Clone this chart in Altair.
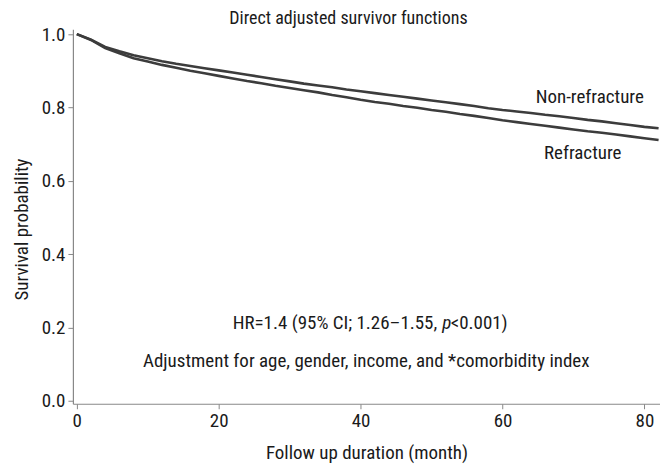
import altair as alt
import pandas as pd

months = list(range(0, 84, 2))
non_refracture = [1.000, 0.985, 0.965, 0.953, 0.942, 0.934, 0.926, 0.919, 0.913, 0.907,
                  0.901, 0.895, 0.889, 0.883, 0.877, 0.871, 0.865, 0.860, 0.855, 0.849,
                  0.844, 0.839, 0.834, 0.829, 0.824, 0.819, 0.814, 0.809, 0.804, 0.798,
                  0.793, 0.789, 0.785, 0.780, 0.776, 0.771, 0.766, 0.762, 0.757, 0.752,
                  0.747, 0.743]
refracture = [1.000, 0.984, 0.962, 0.948, 0.934, 0.925, 0.916, 0.908, 0.900, 0.893,
              0.886, 0.879, 0.872, 0.866, 0.859, 0.853, 0.847, 0.841, 0.834, 0.828,
              0.821, 0.815, 0.810, 0.804, 0.799, 0.793, 0.788, 0.782, 0.777, 0.771,
              0.765, 0.760, 0.755, 0.750, 0.745, 0.740, 0.735, 0.731, 0.726, 0.721,
              0.716, 0.711]

# annotation texts (plain), placed in data coordinates
label_text = ["Non-refracture", "Refracture",
              "Adjustment for age, gender, income, and *comorbidity index"]
label_x = [72.3, 71.3, 40.8]
label_y = [0.828, 0.676, 0.109]

# HR line, split so that "p" can be italic
hr_parts = ["HR=1.4 (95% CI; 1.26\u20131.55,", "p", "<0.001)"]
hr_x = [50.8, 51.5, 52.7]
hr_align = ["right", "left", "left"]
hr_style = ["normal", "italic", "normal"]
hr_y = 0.2125

FONT = "Liberation Sans Narrow, Roboto Condensed, DejaVu Sans Condensed, sans-serif"

df = pd.DataFrame({
    "month": months * 2,
    "surv": non_refracture + refracture,
    "group": ["Non-refracture"] * len(months) + ["Refracture"] * len(months),
})
lab = pd.DataFrame({"text": label_text, "x": label_x, "y": label_y})

xs = alt.Scale(domain=[-0.55, 82.2], nice=False, zero=False)
ys = alt.Scale(domain=[-0.008, 1.013], nice=False, zero=False)

lines = alt.Chart(df).mark_line(strokeWidth=2.6, color="#3c3c3c").encode(
    x=alt.X("month:Q", scale=xs,
            axis=alt.Axis(values=[0, 20, 40, 60, 80], title="Follow up duration (month)", titlePadding=13)),
    y=alt.Y("surv:Q", scale=ys,
            axis=alt.Axis(values=[0, 0.2, 0.4, 0.6, 0.8, 1.0], format=".1f", title="Survival probability",
                          titlePadding=10, titleY=200)),
    detail="group:N",
)

texts = alt.Chart(lab).mark_text(font=FONT, fontSize=19, color="#1a1a1a").encode(
    x=alt.X("x:Q", scale=xs), y=alt.Y("y:Q", scale=ys), text="text:N"
)

hr_layers = []
for t, x, a, s in zip(hr_parts, hr_x, hr_align, hr_style):
    d = pd.DataFrame({"text": [t], "x": [x], "y": [hr_y]})
    hr_layers.append(
        alt.Chart(d).mark_text(font=FONT, fontSize=19, color="#1a1a1a", align=a, fontStyle=s).encode(
            x=alt.X("x:Q", scale=xs), y=alt.Y("y:Q", scale=ys), text="text:N"
        )
    )

chart = alt.layer(lines, texts, *hr_layers).properties(
    width=588, height=375,
    autosize=alt.AutoSizeParams(type="none"),
    padding={"left": 65, "top": 21, "right": 0, "bottom": 62},
    title=alt.TitleParams("Direct adjusted survivor functions", font=FONT, fontSize=18,
                          fontWeight="normal", color="#1a1a1a", anchor="middle", dx=-18, dy=6, offset=3),
).configure_view(stroke=None).configure_axis(
    grid=False, domainColor="#888888", tickColor="#888888", tickSize=5, domainWidth=1.2,
    labelFont=FONT, labelFontSize=19, labelColor="#1a1a1a", titleFont=FONT, titleFontSize=19,
    titleFontWeight="normal", titleColor="#1a1a1a", labelPadding=3,
)

chart.save("out.html", embed_options={"renderer": "svg", "actions": False})
